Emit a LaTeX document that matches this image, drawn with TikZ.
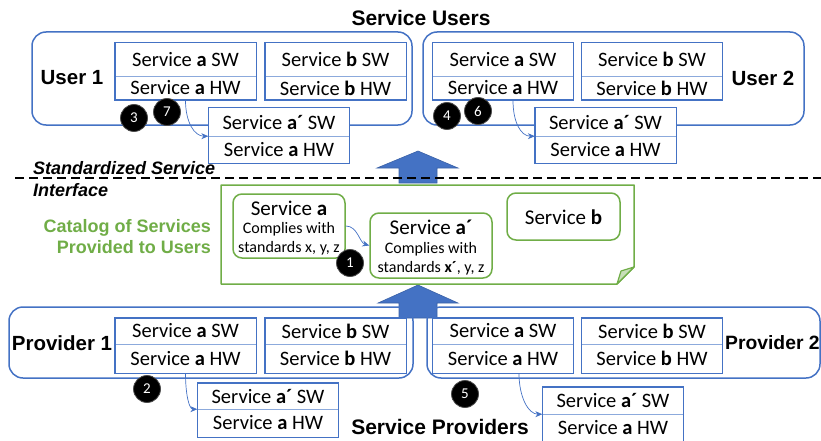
\documentclass[tikz,border=0pt]{standalone}
\usepackage{fontspec}
\setmainfont{Carlito}
\newfontfamily\hfont{Liberation Sans}
\usetikzlibrary{arrows.meta,calc}
\definecolor{boxblue}{RGB}{68,114,196}
\definecolor{divblue}{RGB}{140,170,220}
\definecolor{arrblue}{RGB}{68,114,196}
\definecolor{catgreen}{RGB}{112,173,71}
\definecolor{flapgreen}{RGB}{200,222,185}
\tikzset{
  part/.style={inner sep=0pt, minimum width=141pt, fill=white, font=\fontsize{20.5}{24}\selectfont},
  boxline/.style={draw=boxblue, line width=1.4pt},
  divline/.style={draw=divblue, line width=1pt},
  outerbox/.style={draw=boxblue, line width=1.5pt, rounded corners=14pt, inner sep=0pt},
  head/.style={font=\hfont\bfseries\fontsize{20.5}{24}\selectfont, inner sep=0pt},
  badge/.style={circle, fill=black, draw=black!70, line width=0.8pt, text=white, minimum size=27pt, inner sep=0pt, font=\fontsize{15}{15}\selectfont},
  thinarrow/.style={draw=arrblue, line width=0.7pt, -{Stealth[length=7pt,width=6pt]}},
  bigarrow/.style={fill=arrblue, draw=arrblue!85!black, line width=0.6pt},
  catbox/.style={draw=catgreen, line width=1.5pt, rounded corners=9pt, inner sep=0pt},
  cattitle/.style={inner sep=0pt, font=\fontsize{21}{24}\selectfont},
  catsmall/.style={inner sep=0pt, font=\fontsize{16}{19}\selectfont},
}
\newcommand\stk[7]{%
  \pgfmathsetmacro\hA{#4-#3}\pgfmathsetmacro\hB{#5-#4}%
  \pgfmathsetmacro\cA{(#3+#4)/2}\pgfmathsetmacro\cB{(#4+#5)/2}%
  \node[part,minimum height=\hA pt] (#1-sw) at (#2,\cA) {#6};
  \node[part,minimum height=\hB pt] (#1-hw) at (#2,\cB) {#7};
  \draw[divline] (#1-sw.south west) -- (#1-sw.south east);
  \draw[boxline] (#1-sw.north west) rectangle (#1-hw.south east);
}
\begin{document}
\begin{tikzpicture}[x=1pt,y=-1pt]
\useasboundingbox (0,0) rectangle (821,441);

% titles
\node[head,font=\hfont\bfseries\fontsize{21}{24}\selectfont] (tusers) at (421,18) {Service Users};
\node[head,font=\hfont\bfseries\fontsize{21}{24}\selectfont] (tprov) at (440,427) {Service Providers};

% big arrows
\draw[bigarrow] (399,183) -- (399,168) -- (377,168) -- (418,151) -- (458,168) -- (437,168) -- (437,183) -- cycle;
\draw[bigarrow] (399,318) -- (399,303) -- (378,303) -- (418,285) -- (458,303) -- (437,303) -- (437,318) -- cycle;

% dashed interface line
\draw[line width=2.2pt, dash pattern=on 9pt off 5pt] (15,178) -- (821,178);
\node[anchor=west, inner sep=0pt, font=\hfont\bfseries\itshape\fontsize{18}{20}\selectfont] (std1) at (33,168) {Standardized Service};
\node[anchor=west, inner sep=0pt, font=\hfont\bfseries\itshape\fontsize{18}{20}\selectfont] (std2) at (33,190) {Interface};

% user boxes
\node[outerbox, minimum width=380pt, minimum height=93pt] (user1) at (222,78.5) {};
\node[outerbox, minimum width=381pt, minimum height=93pt] (user2) at (613.5,78.5) {};
\node[head] (u1lab) at (72,78) {User 1};
\node[head] (u2lab) at (763,78) {User 2};

\stk{u1a}{185.5}{43}{76}{100}{Service \textbf{a} SW}{Service \textbf{a} HW}
\stk{u1b}{335.5}{43}{76}{100}{Service \textbf{b} SW}{Service \textbf{b} HW}
\stk{u1p}{279}{108}{136}{163}{Service \textbf{a´} SW}{Service \textbf{a} HW}
\stk{u2a}{503}{43}{76}{100}{Service \textbf{a} SW}{Service \textbf{a} HW}
\stk{u2b}{652}{43}{76}{100}{Service \textbf{b} SW}{Service \textbf{b} HW}
\stk{u2p}{605.5}{108}{136}{163}{Service \textbf{a´} SW}{Service \textbf{a} HW}

% provider boxes
\node[outerbox, minimum width=404pt, minimum height=71pt] (prov1) at (211,342.5) {};
\node[outerbox, minimum width=393pt, minimum height=71pt] (prov2) at (623.5,342.5) {};
\node[head] (p1lab) at (62,343) {Provider 1};
\node[head,anchor=west,font=\hfont\bfseries\fontsize{19.3}{22}\selectfont] (p2lab) at (725,343) {Provider 2};

\stk{p1a}{185.5}{318}{344}{373}{Service \textbf{a} SW}{Service \textbf{a} HW}
\stk{p1b}{335.5}{318}{344}{373}{Service \textbf{b} SW}{Service \textbf{b} HW}
\stk{p1p}{268}{383}{409}{437}{Service \textbf{a´} SW}{Service \textbf{a} HW}
\stk{p2a}{503}{318}{344}{373}{Service \textbf{a} SW}{Service \textbf{a} HW}
\stk{p2b}{652}{318}{344}{373}{Service \textbf{b} SW}{Service \textbf{b} HW}
\stk{p2p}{613}{387}{414}{442}{Service \textbf{a´} SW}{Service \textbf{a} HW}

% catalog
\draw[draw=catgreen, line width=1.5pt, line join=round] (221,185) -- (634,185) -- (634,267) -- (617,284) -- (221,284) -- cycle;
\draw[draw=catgreen, fill=flapgreen, line width=1.2pt, line join=round] (634,267) -- (621,271) -- (617,284) -- cycle;
\node[anchor=east, align=right, inner sep=0pt, text=catgreen, font=\hfont\bfseries\fontsize{18}{21}\selectfont] (catlab) at (211,236.5) {Catalog of Services\\Provided to Users};

\node[catbox, minimum width=112pt, minimum height=64pt] (cata) at (289,226) {};
\node[cattitle] (cata-t) at (289,208) {Service \textbf{a}};
\node[catsmall] (cata-c) at (289,229) {Complies with};
\node[catsmall] (cata-s) at (289,248) {standards x, y, z};

\node[catbox, minimum width=122pt, minimum height=65pt] (catp) at (431,245.5) {};
\node[cattitle] (catp-t) at (431,227) {Service \textbf{a´}};
\node[catsmall] (catp-c) at (431,249) {Complies with};
\node[catsmall] (catp-s) at (431,268) {standards \textbf{x´}, y, z};

\node[catbox, minimum width=113pt, minimum height=47pt] (catb) at (563.5,216.5) {};
\node[cattitle] (catb-t) at (563.5,217) {Service \textbf{b}};

% thin curved arrows
\draw[thinarrow] (u1a-hw.south) .. controls +(0,22) and +(-14,0) .. (u1p-sw.south west);
\draw[thinarrow] ([xshift=10pt]u2a-hw.south) .. controls +(0,22) and +(-14,0) .. (u2p-sw.south west);
\draw[thinarrow] (p1a-hw.south) .. controls +(0,22) and +(-8,0) .. (p1p-sw.south west);
\draw[thinarrow] ([xshift=16pt]p2a-hw.south) .. controls +(0,24) and +(-14,0) .. (p2p-sw.south west);
\draw[thinarrow] (cata.east) .. controls +(12,0) and +(-10,-3) .. (catp.west);

% badges
\node[badge] (b1) at (350,263) {1};
\node[badge] (b2) at (147,389) {2};
\node[badge] (b3) at (134,118) {3};
\node[badge] (b4) at (447,116) {4};
\node[badge] (b5) at (465,394) {5};
\node[badge] (b6) at (478,111) {6};
\node[badge] (b7) at (167,112) {7};
\end{tikzpicture}
\end{document}
